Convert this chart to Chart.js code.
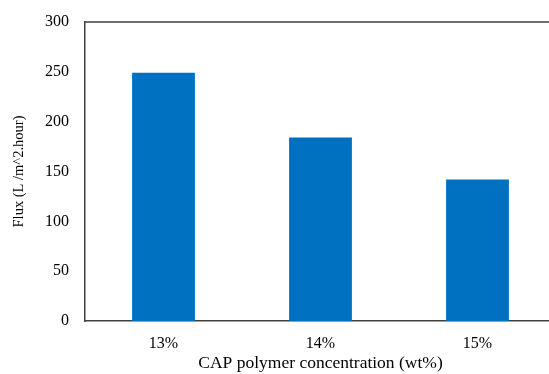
<!DOCTYPE html>
<html>
<head>
<meta charset="utf-8">
<script src="https://cdn.jsdelivr.net/npm/chart.js@4/dist/chart.umd.min.js"></script>
<style>
  html, body { margin: 0; padding: 0; background: #fff; overflow: hidden; }
  #wrap { width: 549px; height: 374px; overflow: hidden; }
</style>
</head>
<body>
<div id="wrap"><canvas id="fluxChart" width="556" height="374"></canvas></div>
<script>
const categories = ['13%', '14%', '15%'];
const fluxValues = [249, 184, 142];
const yTicks = [0, 50, 100, 150, 200, 250, 300];

const axisColor = '#404040';
const serif = '"Liberation Serif", "Times New Roman", serif';
const tickFont = { family: serif, size: 16 };

// top frame line of the plot area
const topBorder = {
    id: 'topBorder',
    afterDraw(chart) {
        const { ctx, chartArea } = chart;
        ctx.save();
        ctx.strokeStyle = axisColor;
        ctx.lineWidth = 1.5;
        ctx.beginPath();
        ctx.moveTo(chartArea.left, chartArea.top);
        ctx.lineTo(chartArea.right, chartArea.top);
        ctx.stroke();
        ctx.restore();
    }
};

new Chart(document.getElementById('fluxChart'), {
    type: 'bar',
    data: {
        labels: categories,
        datasets: [{
            label: 'Flux',
            data: fluxValues,
            backgroundColor: '#0070C0',
            categoryPercentage: 1,
            barPercentage: 0.4
        }]
    },
    options: {
        responsive: false,
        animation: false,
        layout: { padding: { top: 22, left: 0, right: 0, bottom: 0 } },
        plugins: { legend: { display: false }, tooltip: { enabled: false } },
        scales: {
            x: {
                grid: { display: false },
                border: { color: axisColor, width: 1.5 },
                ticks: { color: '#000', font: tickFont, padding: 5 },
                title: { display: true, text: 'CAP polymer concentration (wt%)', color: '#000', font: { family: serif, size: 17.5 }, padding: { top: 6, bottom: 0 } },
                afterFit(scale) { scale.height = 53; }
            },
            y: {
                min: 0,
                max: 300,
                afterBuildTicks(scale) { scale.ticks = yTicks.map(v => ({ value: v })); },
                grid: { display: false },
                border: { color: axisColor, width: 1.5 },
                ticks: { color: '#000', font: tickFont, padding: 8 },
                title: { display: true, text: 'Flux (L /m^2.hour)', color: '#000', font: { family: serif, size: 14.5 }, padding: { top: 10, bottom: 0 } },
                afterFit(scale) { scale.width = 85; }
            }
        }
    },
    plugins: [topBorder]
});
</script>
</body>
</html>
